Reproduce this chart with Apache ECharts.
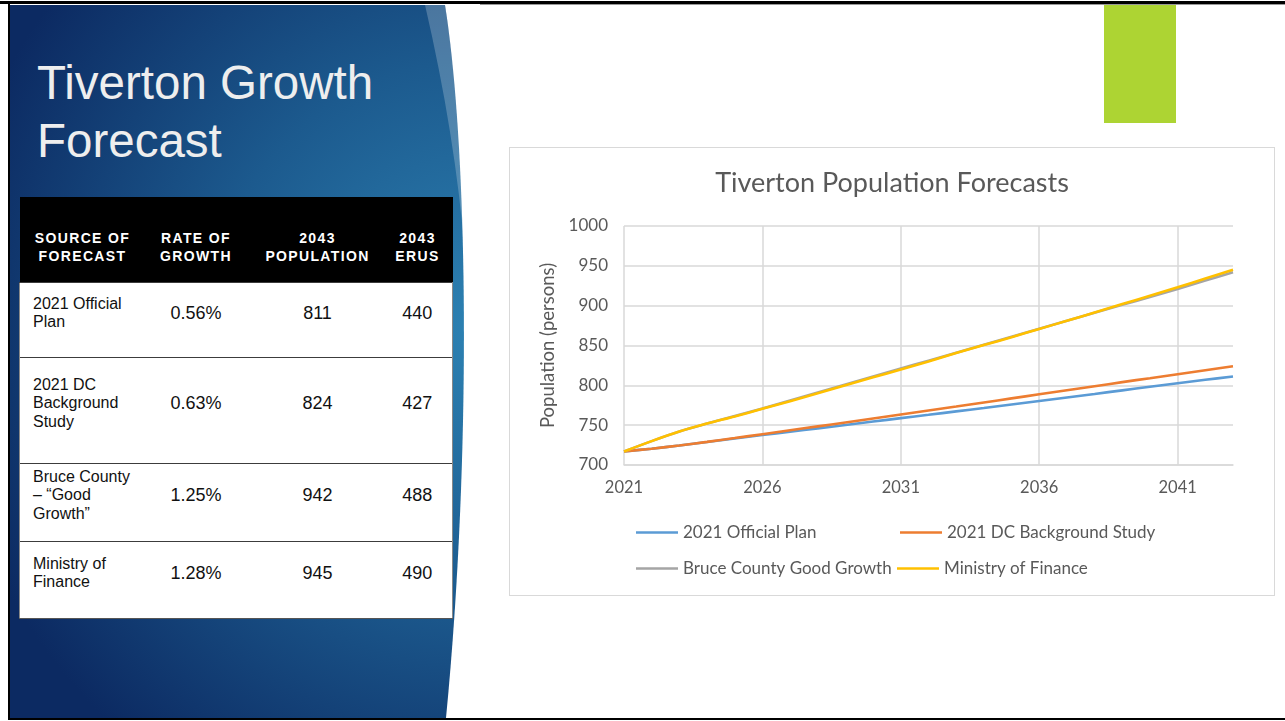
<!DOCTYPE html>
<html>
<head>
<meta charset="utf-8">
<script src="https://cdn.jsdelivr.net/npm/echarts@6/dist/echarts.min.js"></script>
<style>
  html, body { margin: 0; padding: 0; background: #ffffff; }
  body { width: 1285px; height: 721px; position: relative; overflow: hidden; font-family: "Liberation Sans", Arial, sans-serif; }
  .bar { position: absolute; background: #000; }
  #title { position: absolute; left: 37px; top: 54px; color: #eeeeee; font-size: 47.5px; line-height: 58px; font-family: "Liberation Sans", Arial, sans-serif; white-space: pre; }
  #tbl { position: absolute; left: 19px; top: 197px; width: 433px; border-collapse: collapse; table-layout: fixed; }
  #tbl th { background: #000; color: #fff; font-weight: bold; font-size: 14px; letter-spacing: 1.35px; line-height: 18px; text-align: center; vertical-align: middle; padding: 15px 0 0 0; height: 70px; white-space: pre-line; }
  #tbl td { background: #fff; color: #111; font-size: 18px; text-align: center; vertical-align: middle; padding: 0 0 14px 0; border-top: 1.5px solid #3c3c3c; }
  #tbl td.src { text-align: left; padding-left: 13px; font-size: 16px; line-height: 18.5px; white-space: pre-line; }
  #tbl tr:last-child td { border-bottom: 1.5px solid #555; }
  #tbl td:first-child { border-left: 1px solid #888; }
  #tbl td:last-child { border-right: 1px solid #888; }
  #green { position: absolute; left: 1104px; top: 5px; width: 72px; height: 118px; background: #add433; }
  #chartbox { position: absolute; left: 509px; top: 147px; width: 766px; height: 449px; border: 1px solid #d9d9d9; box-sizing: border-box; background: #fff; }
  #chart { position: absolute; left: 510px; top: 148px; width: 764px; height: 447px; }
</style>
</head>
<body>
<svg width="1285" height="721" style="position:absolute;left:0;top:0">
  <defs>
    <radialGradient id="g" gradientUnits="userSpaceOnUse" cx="480" cy="330" r="540">
      <stop offset="0" stop-color="#2d82b3"/>
      <stop offset="0.5" stop-color="#1c5a8e"/>
      <stop offset="1" stop-color="#0c2a62"/>
    </radialGradient>
  </defs>
  <path d="M10,5 H445 C468,150 472,450 446,718 H10 Z" fill="url(#g)"/>
  <path d="M425,5 L445,5 C458,90 465,170 467,280 C461,190 447,100 425,5 Z" fill="#ffffff" fill-opacity="0.22"/>
</svg>
<div class="bar" style="left:0;top:1px;width:1285px;height:3px"></div>
<div class="bar" style="left:480px;top:4px;width:805px;height:1px;background:#999"></div>
<div class="bar" style="left:8px;top:1px;width:2px;height:719px"></div>
<div class="bar" style="left:8px;top:718px;width:1277px;height:2px"></div>
<div id="title">Tiverton Growth
Forecast</div>
<table id="tbl"></table>
<div id="green"></div>
<div id="chartbox"></div>
<div id="chart"></div>
<script>
// ---- table data ----
var tableHeaders = ["SOURCE OF\nFORECAST", "RATE OF\nGROWTH", "2043\nPOPULATION", "2043\nERUS"];
var tableSources = ["2021 Official\nPlan", "2021 DC\nBackground\nStudy", "Bruce County\n– “Good\nGrowth”", "Ministry of\nFinance"];
var tableRates = ["0.56%", "0.63%", "1.25%", "1.28%"];
var tablePop2043 = ["811", "824", "942", "945"];
var tableErus = ["440", "427", "488", "490"];

// ---- chart data ----
var years = ["2021","2022","2023","2024","2025","2026","2027","2028","2029","2030","2031","2032","2033","2034","2035","2036","2037","2038","2039","2040","2041","2042","2043"];
var seriesNames = ["2021 Official Plan", "2021 DC Background Study", "Bruce County Good Growth", "Ministry of Finance"];
var officialPlan = [717,720.5,724.5,728.8,733.2,737.6,741.8,746,750.2,754.5,758.8,763,767.3,771.6,776,780.4,784.8,789.2,793.7,798.2,802.7,807,811];
var dcBackground = [717,720.5,724.5,729,733.8,738.7,743.6,748.5,753.4,758.4,763.4,768.4,773.4,778.5,783.6,788.7,793.8,798.9,804,809,814,819,824];
var bruceCounty  = [717,730,742,752,761.5,771,781,791,801,811,821,831,841,851,861,871,881,891,901,911,921,931.5,942];
var ministry     = [717,730,742,752,761,770.5,780,790,800,810,820,830,840.5,850.5,860.5,870.8,881,891.5,902,912.5,923,934,945];
var yTicks = { min: 700, max: 1000, interval: 50 };

// build table
(function () {
  var t = document.getElementById('tbl');
  var widths = [126, 101, 142, 64];
  var cg = '<colgroup>' + widths.map(function (w) { return '<col style="width:' + w + 'px">'; }).join('') + '</colgroup>';
  var html = cg + '<tr>' + tableHeaders.map(function (h, i) { return '<th' + (i === 3 ? ' style="padding-right:6px"' : '') + '>' + h + '</th>'; }).join('') + '</tr>';
  var heights = [75, 106, 78, 77];
  for (var i = 0; i < tableSources.length; i++) {
    var h = heights[i] - 14 - 1.5;
    html += '<tr style="height:' + heights[i] + 'px">' +
      '<td class="src" style="height:' + h + 'px">' + tableSources[i] + '</td>' +
      '<td>' + tableRates[i] + '</td>' +
      '<td>' + tablePop2043[i] + '</td>' +
      '<td style="padding-right:6px">' + tableErus[i] + '</td></tr>';
  }
  t.innerHTML = html;
})();

var chart = echarts.init(document.getElementById('chart'));
var font = 'Lato';
var txt = '#595959';
var colors = ['#5b9bd5', '#ed7d31', '#a5a5a5', '#ffc000'];
var dataSets = [officialPlan, dcBackground, bruceCounty, ministry];
var legendPos = [[126, 376], [390, 376], [126, 412], [387, 412]];

chart.setOption({
  animation: false,
  color: colors,
  title: {
    text: 'Tiverton Population Forecasts',
    left: 'center',
    top: 17,
    textStyle: { fontFamily: font, fontSize: 27, fontWeight: 'normal', color: txt }
  },
  legend: seriesNames.map(function (n, i) {
    return {
      data: [n], left: legendPos[i][0], top: legendPos[i][1], padding: 0,
      icon: 'rect', itemWidth: 42, itemHeight: 2.5,
      textStyle: { fontFamily: font, fontSize: 17, color: txt }
    };
  }),
  grid: { left: 114, top: 78, width: 609, height: 239, containLabel: false },
  xAxis: {
    type: 'category', data: years, boundaryGap: false,
    axisLine: { show: true, lineStyle: { color: '#d9d9d9', width: 1.5 } },
    axisTick: { show: false },
    axisLabel: { interval: 4, margin: 14, fontFamily: font, fontSize: 16.5, color: txt },
    splitLine: { show: true, interval: 4, lineStyle: { color: '#d9d9d9', width: 1.5 } }
  },
  yAxis: {
    type: 'value', min: yTicks.min, max: yTicks.max, interval: yTicks.interval,
    name: 'Population (persons)', nameLocation: 'middle', nameGap: 52,
    nameTextStyle: { fontFamily: font, fontSize: 18.5, color: txt },
    axisLine: { show: false }, axisTick: { show: false },
    axisLabel: { margin: 16, fontFamily: font, fontSize: 17, color: txt, formatter: function (v) { return String(v); } },
    splitLine: { show: true, lineStyle: { color: '#d9d9d9', width: 1.5 } }
  },
  series: seriesNames.map(function (n, i) {
    return {
      name: n, type: 'line', data: dataSets[i], showSymbol: false, symbol: 'none',
      smooth: 0.3, lineStyle: { width: 2.6, color: colors[i] }
    };
  })
});
</script>
</body>
</html>
